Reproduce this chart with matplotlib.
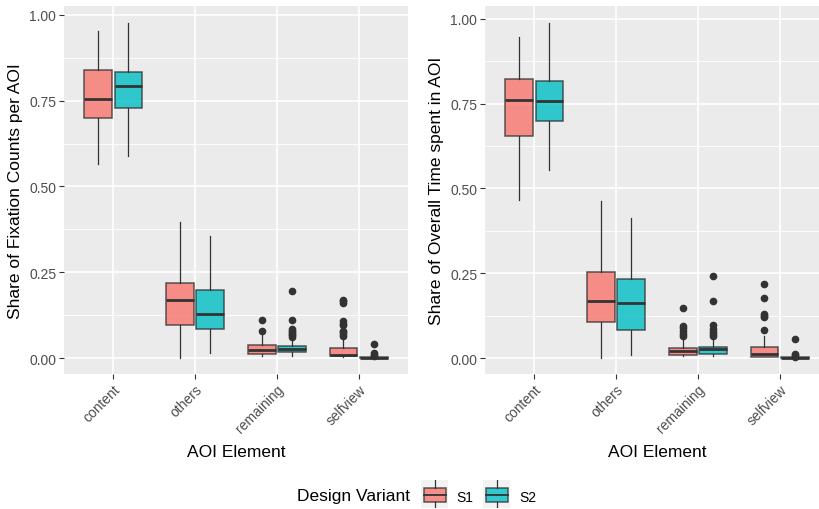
import numpy as np
import matplotlib
matplotlib.use("Agg")
import matplotlib.pyplot as plt
from matplotlib.patches import Rectangle

plt.rcParams['font.family'] = ['Liberation Sans', 'DejaVu Sans']

categories = ["content", "others", "remaining", "selfview"]
variants = ["S1", "S2"]
colors = ["#F8766D", "#00BFC4"]

# [whislo, q1, med, q3, whishi] per category
fix_s1 = [[0.566, 0.699, 0.756, 0.840, 0.954],
          [0.000, 0.096, 0.169, 0.2195, 0.396],
          [0.007, 0.013, 0.023, 0.038, 0.070],
          [0.002, 0.005, 0.010, 0.028, 0.060]]
fix_s2 = [[0.588, 0.729, 0.794, 0.835, 0.976],
          [0.015, 0.084, 0.127, 0.198, 0.355],
          [0.007, 0.0175, 0.026, 0.035, 0.060],
          [0.000, 0.0005, 0.001, 0.003, 0.005]]
fix_s1_out = [[], [], [0.080, 0.112],
              [0.065, 0.070, 0.075, 0.080, 0.095, 0.100, 0.108, 0.160, 0.165, 0.170]]
fix_s2_out = [[], [], [0.062, 0.066, 0.070, 0.075, 0.080, 0.085, 0.112, 0.195],
              [0.006, 0.010, 0.014, 0.042]]

time_s1 = [[0.466, 0.656, 0.761, 0.822, 0.948],
           [0.000, 0.106, 0.168, 0.255, 0.464],
           [0.005, 0.010, 0.020, 0.0286, 0.058],
           [0.002, 0.004, 0.013, 0.0315, 0.064]]
time_s2 = [[0.555, 0.698, 0.757, 0.816, 0.987],
           [0.009, 0.082, 0.162, 0.233, 0.412],
           [0.005, 0.0127, 0.0256, 0.0315, 0.054],
           [0.000, 0.0005, 0.001, 0.002, 0.003]]
time_s1_out = [[], [], [0.066, 0.072, 0.080, 0.088, 0.095, 0.147],
               [0.083, 0.120, 0.125, 0.130, 0.177, 0.218]]
time_s2_out = [[], [], [0.066, 0.072, 0.078, 0.085, 0.097, 0.169, 0.241],
               [0.004, 0.008, 0.012, 0.056]]

y_ticks = [0.0, 0.25, 0.5, 0.75, 1.0]
y_labels = ["0.00", "0.25", "0.50", "0.75", "1.00"]


def to_stats(rows, outs):
    res = []
    for r, o in zip(rows, outs):
        res.append(dict(whislo=r[0], q1=r[1], med=r[2], q3=r[3], whishi=r[4], fliers=o))
    return res


def draw_panel(ax, s1, s2, o1, o2, ylab, ylim):
    ax.set_facecolor("#EBEBEB")
    x = np.arange(len(categories))
    for k, (st, ou) in enumerate([(s1, o1), (s2, o2)]):
        off = -0.1875 if k == 0 else 0.1875
        ax.bxp(to_stats(st, ou), positions=x + off, widths=0.34,
               patch_artist=True, showcaps=False, manage_ticks=False,
               boxprops=dict(facecolor=colors[k], alpha=0.8, edgecolor="#333333", linewidth=1.1),
               medianprops=dict(color="#333333", linewidth=2.0),
               whiskerprops=dict(color="#333333", linewidth=0.9),
               flierprops=dict(marker="o", markerfacecolor="#333333",
                               markeredgecolor="#333333", markersize=4.5))
    ax.set_xlim(-0.6, 3.6)
    ax.set_ylim(*ylim)
    ax.set_xticks(x)
    ax.set_xticklabels(categories, rotation=45, ha="right", va="top",
                       rotation_mode="anchor", fontsize=10, color="#4D4D4D")
    ax.set_yticks(y_ticks)
    ax.set_yticklabels(y_labels, fontsize=10, color="#4D4D4D")
    ax.set_yticks([0.125, 0.375, 0.625, 0.875], minor=True)
    ax.tick_params(which="major", length=3.5, width=0.8, color="#333333", pad=2)
    ax.tick_params(which="minor", length=0)
    ax.grid(which="major", color="white", linewidth=1.2)
    ax.grid(which="minor", axis="y", color="white", linewidth=0.6)
    ax.set_axisbelow(True)
    for sp in ax.spines.values():
        sp.set_visible(False)
    ax.set_ylabel(ylab, fontsize=12.5)
    ax.yaxis.set_label_coords(-0.12, 0.5)
    ax.set_xlabel("AOI Element", fontsize=12.5)
    ax.xaxis.set_label_coords(0.5, -0.19)


fig = plt.figure(figsize=(8.2, 5.1), dpi=100)
ax1 = fig.add_axes([64 / 820, 1 - 375 / 510, 344 / 820, 368 / 510])
ax2 = fig.add_axes([485 / 820, 1 - 375 / 510, 344 / 820, 368 / 510])

draw_panel(ax1, fix_s1, fix_s2, fix_s1_out, fix_s2_out,
           "Share of Fixation Counts per AOI", (-0.0466, 1.026))
draw_panel(ax2, time_s1, time_s2, time_s1_out, time_s2_out,
           "Share of Overall Time spent in AOI", (-0.047, 1.038))

# legend
fig.text(297 / 820, 1 - 497 / 510, "Design Variant", fontsize=12.5, va="center", ha="left")
key_left = [421, 483]
text_left = [456, 519]
for k in range(2):
    kax = fig.add_axes([key_left[k] / 820, 1 - 509 / 510, 27 / 820, 28 / 510])
    kax.set_facecolor("#F2F2F2")
    kax.set_xlim(0, 1)
    kax.set_ylim(0, 1)
    kax.set_xticks([])
    kax.set_yticks([])
    for sp in kax.spines.values():
        sp.set_visible(False)
    kax.plot([0.52, 0.52], [0.0, 0.214], color="#333333", lw=0.9)
    kax.plot([0.52, 0.52], [0.714, 1.0], color="#333333", lw=0.9)
    kax.add_patch(Rectangle((0.12, 0.214), 0.8, 0.5, facecolor=colors[k], alpha=0.8,
                            edgecolor="#333333", lw=1.1))
    kax.plot([0.12, 0.92], [0.464, 0.464], color="#333333", lw=1.3)
    fig.text(text_left[k] / 820, 1 - 498 / 510, variants[k], fontsize=10,
             va="center", ha="left")

fig.savefig("out.png", dpi=100)
